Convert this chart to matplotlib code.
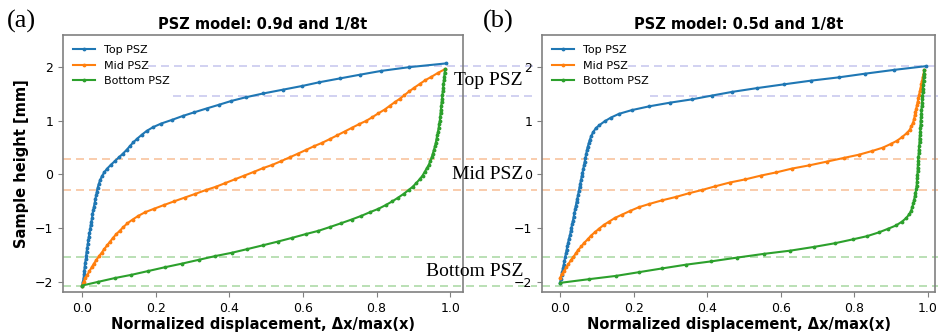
import numpy as np
import matplotlib
matplotlib.use('Agg')
import matplotlib.pyplot as plt
from matplotlib.lines import Line2D
from matplotlib.transforms import blended_transform_factory


# Panel (a): 0.9d and 1/8t
top_a_h = [-2.07, -2.00, -1.93, -1.86, -1.79, -1.72, -1.65, -1.58, -1.51, -1.44,
           -1.37, -1.30, -1.23, -1.16, -1.09, -1.02, -0.95, -0.88, -0.81, -0.74,
           -0.67, -0.60, -0.53, -0.46, -0.39, -0.32, -0.25, -0.18, -0.10, -0.03,
           0.04, 0.11, 0.18, 0.25, 0.32, 0.39, 0.46, 0.53, 0.60, 0.67,
           0.74, 0.81, 0.88, 0.95, 1.02, 1.09, 1.16, 1.23, 1.30, 1.37,
           1.44, 1.51, 1.58, 1.65, 1.72, 1.79, 1.86, 1.93, 2.00, 2.07]
top_a_x = [0.000, 0.002, 0.004, 0.005, 0.006, 0.007, 0.008, 0.010, 0.011, 0.012,
           0.014, 0.015, 0.017, 0.018, 0.020, 0.022, 0.023, 0.025, 0.027, 0.028,
           0.030, 0.032, 0.034, 0.036, 0.038, 0.040, 0.042, 0.045, 0.049, 0.054,
           0.060, 0.068, 0.078, 0.089, 0.100, 0.111, 0.121, 0.130, 0.139, 0.150,
           0.162, 0.175, 0.192, 0.215, 0.245, 0.273, 0.305, 0.338, 0.372, 0.405,
           0.445, 0.492, 0.545, 0.598, 0.645, 0.700, 0.755, 0.812, 0.888, 0.988]

mid_a_h = [-2.07, -2.00, -1.93, -1.87, -1.80, -1.73, -1.66, -1.59, -1.52, -1.46,
           -1.39, -1.32, -1.25, -1.18, -1.11, -1.05, -0.98, -0.91, -0.84, -0.77,
           -0.70, -0.64, -0.57, -0.50, -0.43, -0.36, -0.29, -0.23, -0.16, -0.09,
           -0.02, 0.05, 0.12, 0.18, 0.25, 0.32, 0.39, 0.46, 0.53, 0.59,
           0.66, 0.73, 0.80, 0.87, 0.94, 1.00, 1.07, 1.14, 1.21, 1.28,
           1.35, 1.41, 1.48, 1.55, 1.62, 1.69, 1.76, 1.82, 1.89, 1.96]
mid_a_x = [0.000, 0.004, 0.009, 0.014, 0.020, 0.026, 0.032, 0.039, 0.046, 0.053,
           0.060, 0.068, 0.076, 0.084, 0.093, 0.102, 0.112, 0.123, 0.137, 0.153,
           0.172, 0.195, 0.222, 0.250, 0.279, 0.308, 0.336, 0.363, 0.389, 0.415,
           0.441, 0.467, 0.492, 0.517, 0.541, 0.564, 0.587, 0.609, 0.631, 0.652,
           0.673, 0.693, 0.713, 0.733, 0.753, 0.772, 0.789, 0.805, 0.822, 0.836,
           0.850, 0.863, 0.876, 0.889, 0.903, 0.918, 0.933, 0.949, 0.966, 0.985]

bot_a_h = mid_a_h
bot_a_x = [0.000, 0.044, 0.089, 0.134, 0.179, 0.224, 0.272, 0.317, 0.362, 0.406,
           0.449, 0.491, 0.532, 0.571, 0.608, 0.642, 0.673, 0.703, 0.732, 0.759,
           0.783, 0.805, 0.825, 0.843, 0.859, 0.874, 0.887, 0.898, 0.908, 0.917,
           0.925, 0.931, 0.937, 0.942, 0.946, 0.950, 0.953, 0.956, 0.959, 0.961,
           0.963, 0.965, 0.967, 0.969, 0.970, 0.972, 0.973, 0.974, 0.975, 0.976,
           0.977, 0.978, 0.979, 0.980, 0.981, 0.982, 0.983, 0.984, 0.985, 0.986]

# Panel (b): 0.5d and 1/8t
top_b_h = [-2.02, -1.95, -1.88, -1.81, -1.75, -1.68, -1.61, -1.54, -1.47, -1.40,
           -1.34, -1.27, -1.20, -1.13, -1.06, -0.99, -0.92, -0.86, -0.79, -0.72,
           -0.65, -0.58, -0.51, -0.45, -0.38, -0.31, -0.24, -0.17, -0.10, -0.03,
           0.03, 0.10, 0.17, 0.24, 0.31, 0.38, 0.45, 0.51, 0.58, 0.65,
           0.72, 0.79, 0.86, 0.92, 0.99, 1.06, 1.13, 1.20, 1.27, 1.34,
           1.40, 1.47, 1.54, 1.61, 1.68, 1.75, 1.81, 1.88, 1.95, 2.02]
top_b_x = [0.000, 0.002, 0.004, 0.006, 0.008, 0.010, 0.012, 0.014, 0.016, 0.018,
           0.020, 0.022, 0.024, 0.027, 0.029, 0.031, 0.033, 0.035, 0.037, 0.039,
           0.041, 0.043, 0.045, 0.047, 0.049, 0.051, 0.053, 0.055, 0.057, 0.059,
           0.061, 0.063, 0.065, 0.067, 0.069, 0.071, 0.073, 0.075, 0.078, 0.081,
           0.085, 0.090, 0.097, 0.107, 0.121, 0.138, 0.160, 0.195, 0.242, 0.300,
           0.358, 0.412, 0.468, 0.535, 0.608, 0.683, 0.757, 0.830, 0.908, 0.995]

mid_b_h = [-1.93, -1.86, -1.80, -1.73, -1.67, -1.60, -1.54, -1.47, -1.40, -1.34,
           -1.27, -1.21, -1.14, -1.08, -1.01, -0.94, -0.88, -0.81, -0.75, -0.68,
           -0.61, -0.55, -0.48, -0.42, -0.35, -0.29, -0.22, -0.15, -0.09, -0.02,
           0.04, 0.11, 0.17, 0.24, 0.31, 0.37, 0.44, 0.50, 0.57, 0.63,
           0.70, 0.77, 0.83, 0.90, 0.96, 1.03, 1.10, 1.16, 1.23, 1.29,
           1.36, 1.42, 1.49, 1.56, 1.62, 1.69, 1.75, 1.82, 1.88, 1.95]
mid_b_x = [0.000, 0.005, 0.011, 0.017, 0.023, 0.029, 0.036, 0.043, 0.050, 0.058,
           0.066, 0.075, 0.084, 0.094, 0.106, 0.119, 0.133, 0.149, 0.168, 0.190,
           0.214, 0.242, 0.278, 0.314, 0.350, 0.385, 0.422, 0.461, 0.504, 0.546,
           0.588, 0.630, 0.677, 0.725, 0.772, 0.813, 0.849, 0.877, 0.899, 0.916,
           0.930, 0.942, 0.950, 0.955, 0.959, 0.962, 0.964, 0.966, 0.968, 0.970,
           0.972, 0.974, 0.976, 0.978, 0.980, 0.982, 0.984, 0.986, 0.988, 0.990]

bot_b_h = [-2.02, -1.95, -1.89, -1.82, -1.75, -1.68, -1.62, -1.55, -1.48, -1.42,
           -1.35, -1.28, -1.21, -1.15, -1.08, -1.01, -0.95, -0.88, -0.81, -0.74,
           -0.68, -0.61, -0.54, -0.48, -0.41, -0.34, -0.27, -0.21, -0.14, -0.07,
           -0.01, 0.06, 0.13, 0.20, 0.26, 0.33, 0.40, 0.46, 0.53, 0.60,
           0.67, 0.73, 0.80, 0.87, 0.93, 1.00, 1.07, 1.13, 1.20, 1.27,
           1.34, 1.40, 1.47, 1.54, 1.60, 1.67, 1.74, 1.81, 1.87, 1.94]
bot_b_x = [0.000, 0.080, 0.152, 0.215, 0.278, 0.343, 0.410, 0.480, 0.553, 0.625,
           0.690, 0.748, 0.795, 0.834, 0.866, 0.892, 0.913, 0.929, 0.941, 0.949,
           0.954, 0.957, 0.960, 0.962, 0.964, 0.966, 0.968, 0.969, 0.970, 0.970,
           0.971, 0.972, 0.972, 0.973, 0.973, 0.974, 0.975, 0.975, 0.976, 0.977,
           0.977, 0.978, 0.979, 0.979, 0.980, 0.980, 0.981, 0.982, 0.982, 0.983,
           0.984, 0.984, 0.985, 0.986, 0.986, 0.987, 0.988, 0.988, 0.989, 0.990]

# PSZ band limits [mm]
top_band = [2.03, 1.47]
mid_band = [0.28, -0.29]
bot_band = [-1.54, -2.07]

labels = ['Top PSZ', 'Mid PSZ', 'Bottom PSZ']
colors = ['tab:blue', 'tab:orange', 'tab:green']
band_colors = ['#c9c9ef', '#f8c39e', '#aedaa8']

W, H = 938, 332
fig = plt.figure(figsize=(W / 100, H / 100), dpi=100)
ax1 = fig.add_axes([63 / W, 40 / H, 400 / W, 257 / H])
ax2 = fig.add_axes([542 / W, 40 / H, 393 / W, 257 / H])

panels = [
    (ax1, 'PSZ model: 0.9d and 1/8t', (-0.052, 1.035),
     [(top_a_x, top_a_h), (mid_a_x, mid_a_h), (bot_a_x, bot_a_h)]),
    (ax2, 'PSZ model: 0.5d and 1/8t', (-0.049, 1.019),
     [(top_b_x, top_b_h), (mid_b_x, mid_b_h), (bot_b_x, bot_b_h)]),
]

for ax, title, xlim, curves in panels:
    for (xs, hs), lab, c in zip(curves, labels, colors):
        ax.plot(xs, hs, color=c, lw=1.5, marker='.', ms=3.5, label=lab)
    ax.set_xlim(xlim)
    ax.set_ylim(-2.19, 2.6)
    ax.set_xticks([0.0, 0.2, 0.4, 0.6, 0.8, 1.0])
    ax.set_yticks([-2, -1, 0, 1, 2])
    ax.set_title(title, fontsize=10.5, fontweight='bold', pad=4)
    ax.set_xlabel('Normalized displacement, Δx/max(x)', fontsize=10.5,
                  fontweight='bold', labelpad=2)
    ax.tick_params(labelsize=9, color='0.5', length=3.5)
    for s in ax.spines.values():
        s.set_color('0.5')
        s.set_linewidth(1.2)
    ax.patch.set_alpha(0)
    ax.legend(loc='upper left', fontsize=8, frameon=False)

ax1.set_ylabel('Sample height [mm]', fontsize=10.5, fontweight='bold', labelpad=4)

# dashed band limits run across both panels, stopping short of the legends
trans = blended_transform_factory(fig.transFigure, ax1.transData)
spans = {2.03: [(148, 537), (628, W)], 1.47: [(173, 537), (650, W)]}
for levels, bc in zip([top_band, mid_band, bot_band], band_colors):
    for lev in levels:
        for x0, x1 in spans.get(lev, [(63, 537), (542, W)]):
            fig.add_artist(Line2D([x0 / W, x1 / W], [lev, lev], transform=trans,
                                  color=bc, lw=1.2, dashes=(4.8, 3), zorder=-1))

for name, levels in zip(labels, [top_band, mid_band, bot_band]):
    fig.text(523 / W, np.mean(levels), name, transform=trans, ha='right',
             va='center', fontsize=14, family='Liberation Serif')

fig.text(7 / W, 1 - 21 / H, '(a)', fontsize=19, family='Liberation Serif',
         va='center')
fig.text(483 / W, 1 - 21 / H, '(b)', fontsize=19, family='Liberation Serif',
         va='center')

fig.savefig('out.png', dpi=100)
